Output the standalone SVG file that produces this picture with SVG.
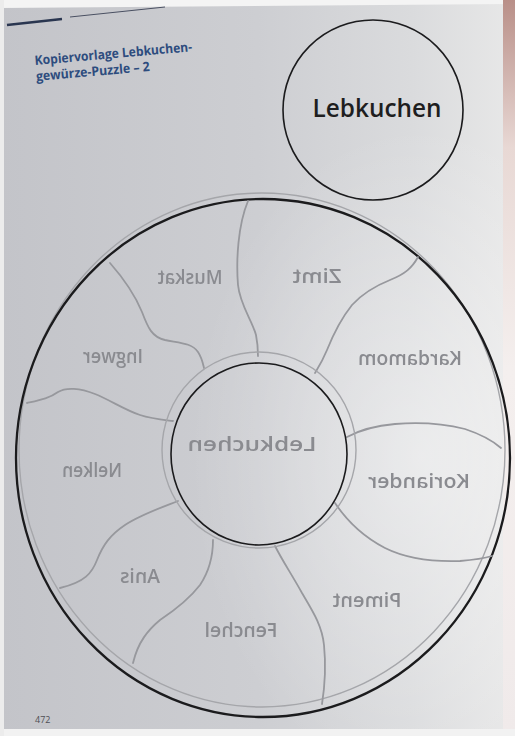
<svg xmlns="http://www.w3.org/2000/svg" width="515" height="736" viewBox="0 0 515 736">
  <defs>
    <linearGradient id="pageGrad" x1="0" y1="0" x2="1" y2="0">
      <stop offset="0" stop-color="#c3c4c9"/>
      <stop offset="0.5" stop-color="#cdced2"/>
      <stop offset="0.8" stop-color="#dadbdd"/>
      <stop offset="1" stop-color="#e8e8e8"/>
    </linearGradient>
    <radialGradient id="glow" cx="0.82" cy="0.62" r="0.45">
      <stop offset="0" stop-color="#ffffff" stop-opacity="0.45"/>
      <stop offset="1" stop-color="#ffffff" stop-opacity="0"/>
    </radialGradient>
    <linearGradient id="edgeGrad" x1="0" y1="0" x2="0" y2="1">
      <stop offset="0" stop-color="#b98f88"/>
      <stop offset="0.2" stop-color="#e8d8d4"/>
      <stop offset="0.5" stop-color="#f4efee"/>
      <stop offset="1" stop-color="#f0eaea"/>
    </linearGradient>
    <filter id="soft" x="-10%" y="-10%" width="120%" height="120%">
      <feGaussianBlur stdDeviation="0.7"/>
    </filter>
  </defs>
  <style>
    .ink { fill: none; stroke: #1b1b1d; }
    .ring { fill: none; stroke: #a5a6aa; stroke-width: 1.4; }
    .divider { fill: none; stroke: #97989d; stroke-width: 1.8; stroke-linecap: round; }
    .ghost { font-family: "Open Sans", "Liberation Sans", sans-serif; font-size: 19px; font-weight: 600; fill: #8a8b90; text-anchor: middle; }
    .title { font-family: "Open Sans", "Liberation Sans", sans-serif; font-size: 13px; font-weight: 700; fill: #2d4c7e; }
  </style>

  <g id="page">
    <rect x="0" y="0" width="515" height="736" fill="url(#pageGrad)"/>
    <rect x="0" y="0" width="515" height="736" fill="url(#glow)"/>
    <polygon points="0,0 515,0 515,4 0,8" fill="#f4f4f4"/>
    <rect x="503" y="0" width="12" height="736" fill="url(#edgeGrad)"/>
    <rect x="0" y="729" width="515" height="7" fill="#f2f2f2"/>
    <rect x="0" y="0" width="4" height="736" fill="#ececec"/>
  </g>

  <g id="header">
    <line x1="7" y1="25" x2="62" y2="19" stroke="#2a3650" stroke-width="2.4"/>
    <line x1="70" y1="17" x2="165" y2="7" stroke="#4a5062" stroke-width="1"/>
    <g transform="rotate(-5 35 65)">
      <text class="title" x="35" y="65" textLength="158" lengthAdjust="spacingAndGlyphs">Kopiervorlage Lebkuchen-</text>
      <text class="title" x="35" y="81" textLength="114" lengthAdjust="spacingAndGlyphs">gewürze-Puzzle – 2</text>
    </g>
  </g>

  <g id="node-lebkuchen-top">
    <ellipse class="ink" cx="373" cy="110" rx="90" ry="90" stroke-width="1.6"/>
    <text x="377" y="117" text-anchor="middle" font-family="Open Sans, Liberation Sans, sans-serif" font-size="25" font-weight="600" fill="#1e1e20" textLength="129" lengthAdjust="spacingAndGlyphs">Lebkuchen</text>
  </g>

  <g id="node-outer-ring">
    <ellipse class="ring" cx="262" cy="450" rx="243" ry="257" filter="url(#soft)"/>
    <ellipse class="ink" cx="263" cy="458" rx="247" ry="259" stroke-width="2.3"/>
  </g>

  <g id="connectors" filter="url(#soft)">
    <path class="divider" d="M248,201 C238,225 236,260 238,285 C240,305 252,320 256,335 C258,345 258,352 258,356"/>
    <path class="divider" d="M110,263 C125,280 135,295 142,312 C148,328 152,337 165,340 C180,343 192,343 198,352 C202,358 203,364 204,368"/>
    <path class="divider" d="M27,403 C40,400 50,398 58,392 C66,387 80,388 95,394 C110,400 125,410 140,415 C152,419 165,420 173,421"/>
    <path class="divider" d="M178,501 C160,508 140,515 125,525 C110,535 103,545 97,560 C92,573 85,582 60,588"/>
    <path class="divider" d="M213,540 C213,555 210,570 200,585 C190,598 175,610 160,620 C148,630 138,642 133,663"/>
    <path class="divider" d="M275,546 C282,560 292,575 302,593 C312,610 322,625 324,645 C326,665 325,685 322,704"/>
    <path class="divider" d="M335,503 C345,518 360,535 385,548 C405,558 430,562 460,561 C472,560 482,559 492,556"/>
    <path class="divider" d="M347,437 C358,431 372,426 395,424 C420,422 445,424 465,429 C480,434 492,440 501,448"/>
    <path class="divider" d="M418,257 C412,268 405,274 390,280 C375,286 362,294 352,305 C340,320 333,335 327,350 C322,362 318,368 315,373"/>
  </g>

  <g id="node-center">
    <ellipse class="ring" cx="259" cy="450" rx="97" ry="98" filter="url(#soft)"/>
    <ellipse class="ink" cx="259" cy="454" rx="88" ry="91" stroke-width="1.6"/>
    <text class="ghost" transform="translate(252 451) scale(-1 1)" x="0" y="0" font-size="25" textLength="129" lengthAdjust="spacingAndGlyphs" filter="url(#soft)">Lebkuchen</text>
  </g>

  <g id="node-muskat"><text class="ghost" transform="translate(190 284) scale(-1 1)" x="0" y="0" textLength="65" lengthAdjust="spacingAndGlyphs" filter="url(#soft)">Muskat</text></g>
  <g id="node-zimt"><text class="ghost" transform="translate(317 283) scale(-1 1)" x="0" y="0" textLength="49" lengthAdjust="spacingAndGlyphs" filter="url(#soft)">Zimt</text></g>
  <g id="node-ingwer"><text class="ghost" transform="translate(113 363) scale(-1 1)" x="0" y="0" textLength="60" lengthAdjust="spacingAndGlyphs" filter="url(#soft)">Ingwer</text></g>
  <g id="node-kardamom"><text class="ghost" transform="translate(410 365) scale(-1 1)" x="0" y="0" textLength="104" lengthAdjust="spacingAndGlyphs" filter="url(#soft)">Kardamom</text></g>
  <g id="node-koriander"><text class="ghost" transform="translate(419 488) scale(-1 1)" x="0" y="0" textLength="102" lengthAdjust="spacingAndGlyphs" filter="url(#soft)">Koriander</text></g>
  <g id="node-nelken"><text class="ghost" transform="translate(92 477) scale(-1 1)" x="0" y="0" textLength="60" lengthAdjust="spacingAndGlyphs" filter="url(#soft)">Nelken</text></g>
  <g id="node-anis"><text class="ghost" transform="translate(140 583) scale(-1 1)" x="0" y="0" textLength="40" lengthAdjust="spacingAndGlyphs" filter="url(#soft)">Anis</text></g>
  <g id="node-fenchel"><text class="ghost" transform="translate(241 637) scale(-1 1)" x="0" y="0" textLength="73" lengthAdjust="spacingAndGlyphs" filter="url(#soft)">Fenchel</text></g>
  <g id="node-piment"><text class="ghost" transform="translate(367 607) scale(-1 1)" x="0" y="0" textLength="69" lengthAdjust="spacingAndGlyphs" filter="url(#soft)">Piment</text></g>

  <g id="page-number">
    <text x="35" y="723" font-family="Open Sans, Liberation Sans, sans-serif" font-size="9" fill="#4e4f55">472</text>
  </g>
</svg>
